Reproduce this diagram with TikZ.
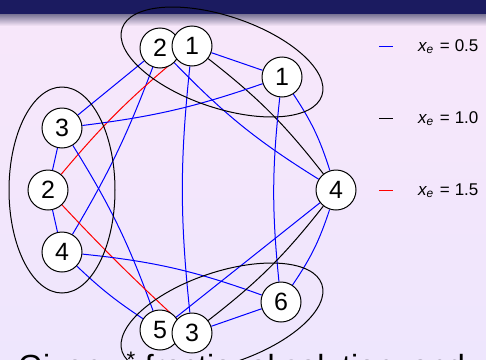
\documentclass[tikz,border=0pt]{standalone}
\usepackage{fontspec}
\setmainfont{Liberation Sans}

\definecolor{navybar}{RGB}{27,27,96}
\definecolor{barshadow}{RGB}{120,115,148}
\definecolor{bgtop}{RGB}{248,231,250}
\definecolor{bgbot}{RGB}{238,230,253}

\pgfdeclarelayer{back}
\pgfdeclarelayer{edges}
\pgfsetlayers{back,edges,main}

\begin{document}
\begin{tikzpicture}[x=1pt,y=-1pt,
  vtx/.style={circle,draw,fill=white,line width=1pt,minimum size=40pt,
    inner sep=0pt,font=\fontsize{25}{25}\selectfont},
  half/.style={blue,line width=1pt},
  one/.style={black,line width=1pt},
  threehalf/.style={red,line width=1pt},
  group/.style={black,line width=1pt},
  legtext/.style={anchor=base west,inner sep=0pt,font=\fontsize{17}{17}\selectfont}]
\useasboundingbox (0,0) rectangle (486,359);
\clip (0,0) rectangle (486,359);

% slide background and title bar
\begin{pgfonlayer}{back}
  \shade[top color=bgtop,bottom color=bgbot] (0,0) rectangle (486,359);
  \shade[top color=barshadow,bottom color=bgtop] (0,14) rectangle (486,26);
  \fill[navybar] (0,0) rectangle (486,14);
\end{pgfonlayer}

% vertices
\node[vtx] (t2) at (160,48) {2};
\node[vtx] (t1) at (192,46) {1};
\node[vtx] (r1) at (282,77) {1};
\node[vtx] (l3) at (62,128) {3};
\node[vtx] (l2) at (48,190) {2};
\node[vtx] (l4) at (62,252) {4};
\node[vtx] (r4) at (336,190) {4};
\node[vtx] (r6) at (281,302) {6};
\node[vtx] (b5) at (160,330) {5};
\node[vtx] (b3) at (192,333) {3};

% edges of the fractional solution
\begin{pgfonlayer}{edges}
  \draw[half] (t2) -- (l3);
  \draw[half] (t2) to[bend left=5] (l4);
  \draw[half] (t2) to[bend right=7] (r4);
  \draw[half] (t1) -- (r1);
  \draw[threehalf] (t1) to[bend right=5] (l2);
  \draw[half] (t1) to[bend right=6] (b3);
  \draw[one] (t1) to[bend left=7] (r4);
  \draw[half] (r1) to[bend left=6] (l3);
  \draw[half] (r1) to[bend right=6] (r6);
  \draw[half] (r1) to[bend left=8] (r4);
  \draw[half] (l3) -- (l2);
  \draw[half] (l3) to[bend left=6] (b5);
  \draw[half] (l2) -- (l4);
  \draw[threehalf] (l2) to[bend right=2] (b3);
  \draw[half] (l4) to[bend left=7] (r6);
  \draw[half] (l4) to[bend right=5] (b5);
  \draw[half] (r4) -- (b5);
  \draw[one] (r4) to[bend left=7] (b3);
  \draw[half] (r4) to[bend left=8] (r6);
  \draw[half] (r6) -- (b3);

  % shrunk sets
  \draw[group, rotate around={-18.6:(222,62)}] (222,62) ellipse [x radius=105.4pt, y radius=45.9pt];
  \draw[group, rotate around={18.6:(222,318)}] (222,318) ellipse [x radius=105.4pt, y radius=45.9pt];
  \draw[group] (62,190) ellipse [x radius=53pt, y radius=103pt];
\end{pgfonlayer}

% legend
\draw[half] (379,46) -- (393,46);
\draw[one] (379,118) -- (393,118);
\draw[threehalf] (379,190) -- (393,190);
\node[legtext] (lg1) at (418,51) {\itshape x\textsubscript{e}\upshape\hspace{0.35em}=\hspace{0.3em}0.5};
\node[legtext] (lg2) at (418,123) {\itshape x\textsubscript{e}\upshape\hspace{0.35em}=\hspace{0.3em}1.0};
\node[legtext] (lg3) at (418,195) {\itshape x\textsubscript{e}\upshape\hspace{0.35em}=\hspace{0.3em}1.5};

% text running below
\node[anchor=base west,inner sep=0pt,font=\fontsize{32}{32}\selectfont] (caption) at (18,377)
  {Given {\itshape x}\textsuperscript{*} fractional solution, and};
\end{tikzpicture}
\end{document}
